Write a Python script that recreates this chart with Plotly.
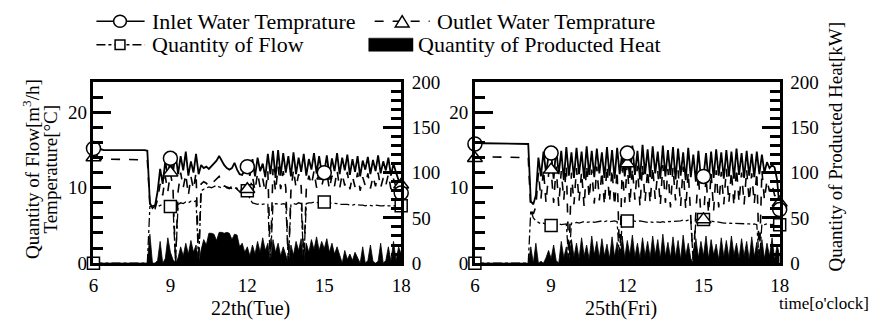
import plotly.graph_objects as go

W, H = 887, 336
FONT = "Liberation Serif"

# ---------------- data (6-minute samples, 6:00 .. 18:00) ----------------
time_h = [round(6 + i * 0.1, 1) for i in range(121)]
x_ticks = [6, 9, 12, 15, 18]
marker_hours = [6, 9, 12, 15, 18]

# 22th (Tue)
tue_inlet = [
    15.2, 15.0, 15.0, 15.1, 15.0, 15.0, 15.0, 15.1, 15.0, 15.0,
    15.0, 15.0, 15.1, 15.0, 15.0, 15.0, 15.0, 15.1, 15.0, 15.0,
    15.0, 14.9, 8.0, 7.3, 7.6, 9.5, 12.5, 10.5, 13.5, 11.5,
    13.9, 12.0, 14.6, 11.8, 14.2, 12.3, 14.8, 11.6, 13.5, 12.0,
    14.5, 11.8, 13.0, 12.6, 12.8, 12.5, 12.9, 13.2, 13.6, 14.2,
    13.6, 13.0, 12.6, 12.4, 12.6, 13.3, 12.4, 11.8, 11.7, 12.4,
    12.8, 11.6, 13.8, 11.5, 14.0, 12.2, 13.2, 11.4, 14.5, 11.8,
    14.9, 11.3, 15.0, 11.6, 14.6, 12.0, 14.2, 11.5, 14.7, 11.8,
    14.0, 12.1, 14.5, 11.6, 13.8, 12.4, 14.6, 11.9, 14.2, 12.0,
    12.0, 14.3, 11.6, 13.9, 12.2, 14.6, 11.8, 14.0, 12.3, 14.4,
    11.7, 13.8, 12.1, 14.2, 11.5, 13.6, 12.4, 14.1, 11.8, 13.7,
    12.2, 14.3, 11.9, 13.5, 12.3, 14.0, 11.6, 13.2, 12.0, 11.0,
    9.3,
]
tue_outlet = [
    14.0, 13.8, 13.8, 13.8, 13.8, 13.8, 13.8, 13.8, 13.8, 13.8,
    13.8, 13.8, 13.8, 13.8, 13.8, 13.8, 13.8, 13.8, 13.8, 13.8,
    13.8, 13.7, 7.8, 7.0, 7.2, 8.5, 10.5, 9.0, 11.5, 9.5,
    12.0, 10.0, 0.0, 9.5, 12.0, 10.0, 11.8, 9.0, 11.5, 9.8,
    12.0, 0.0, 10.5, 10.8, 10.6, 10.2, 10.5, 10.8, 11.2, 11.5,
    10.8, 10.3, 10.0, 9.9, 10.2, 10.6, 9.8, 9.5, 9.4, 9.8,
    9.8, 9.5, 11.5, 9.6, 12.0, 10.0, 11.2, 9.4, 12.2, 0.0,
    12.5, 9.5, 12.8, 9.8, 12.2, 10.0, 0.0, 9.6, 12.4, 10.0,
    11.8, 10.2, 0.0, 9.8, 11.6, 10.4, 12.2, 10.0, 11.8, 10.2,
    11.6, 12.0, 9.8, 11.6, 10.2, 12.3, 9.9, 11.8, 10.3, 12.1,
    9.8, 11.5, 10.1, 12.0, 9.6, 11.4, 10.3, 11.9, 9.9, 11.5,
    10.2, 12.0, 10.0, 11.3, 10.3, 11.8, 9.8, 11.2, 10.1, 10.6,
    10.4,
]
tue_flow = [
    0, 0, 0, 0, 0, 0, 0, 0, 0, 0,
    0, 0, 0, 0, 0, 0, 0, 0, 0, 0,
    0, 0, 7.5, 7.6, 7.7, 7.5, 7.6, 7.8, 7.7, 7.6,
    7.5, 7.7, 0.0, 7.8, 8.0, 7.9, 8.1, 8.0, 8.2, 8.1,
    8.3, 0.0, 9.6, 9.8, 10.0, 10.1, 10.0, 10.2, 10.3, 10.1,
    10.0, 10.2, 10.1, 10.0, 9.9, 10.0, 9.8, 9.7, 9.8, 9.7,
    9.6, 8.5, 8.0, 7.9, 7.8, 7.9, 7.8, 7.9, 7.8, 0.0,
    7.8, 7.9, 7.8, 7.8, 7.9, 7.8, 0.0, 7.8, 7.9, 7.8,
    8.0, 7.9, 0.0, 7.9, 8.0, 8.0, 8.1, 8.0, 8.1, 8.1,
    8.1, 8.0, 8.0, 7.9, 7.9, 7.9, 7.8, 7.8, 7.8, 7.8,
    7.7, 7.7, 7.8, 7.7, 7.7, 7.7, 7.6, 7.7, 7.6, 7.6,
    7.7, 7.6, 7.6, 7.6, 7.7, 7.6, 7.6, 7.6, 7.7, 7.6,
    7.6,
]
tue_heat = [
    0, 0, 0, 0, 0, 0, 0, 0, 0, 0,
    0, 0, 0, 0, 0, 0, 0, 0, 0, 0,
    0, 0, 32, 0, 0, 3, 24, 0, 5, 28,
    12, 4, 0, 6, 18, 8, 22, 10, 25, 12,
    20, 0, 15, 26, 20, 33, 33, 32, 25, 34,
    34, 33, 34, 33, 26, 32, 31, 18, 22, 12,
    18, 8, 20, 10, 24, 12, 28, 14, 22, 0,
    26, 12, 22, 8, 18, 10, 0, 20, 9, 24,
    14, 27, 0, 22, 12, 26, 15, 29, 14, 24,
    16, 27, 12, 22, 10, 18, 8, 0, 14, 4,
    10, 3, 12, 5, 0, 18, 0, 3, 20, 2,
    0, 2, 22, 0, 3, 18, 2, 24, 3, 18,
    10,
]

# 25th (Fri)
fri_inlet = [
    15.8, 15.9, 15.9, 15.9, 15.9, 15.9, 15.9, 15.9, 15.9, 15.9,
    15.9, 15.9, 15.9, 15.9, 15.9, 15.9, 15.9, 15.9, 15.9, 15.9,
    15.9, 15.8, 8.2, 7.8, 9.0, 14.0, 11.5, 14.8, 12.0, 14.2,
    14.6, 11.2, 15.2, 11.8, 14.9, 11.0, 15.4, 11.6, 14.7, 11.3,
    15.3, 11.8, 14.8, 11.2, 15.5, 11.7, 14.9, 11.4, 15.2, 11.9,
    14.7, 11.3, 15.4, 11.6, 15.0, 11.2, 15.3, 11.8, 14.6, 11.5,
    14.6, 11.3, 15.6, 11.7, 14.9, 11.1, 15.7, 11.8, 15.1, 11.4,
    15.5, 11.9, 14.8, 11.2, 15.6, 11.5, 15.0, 11.7, 15.4, 11.1,
    15.2, 11.6, 14.7, 11.0, 15.3, 11.4, 14.4, 10.8, 14.9, 11.2,
    11.5, 14.6, 10.9, 14.8, 11.3, 15.1, 11.6, 14.7, 11.2, 15.0,
    11.5, 14.8, 11.2, 15.2, 11.7, 14.6, 11.3, 14.9, 11.6, 14.5,
    11.4, 14.8, 11.8, 14.4, 12.0, 13.4, 12.6, 13.0, 12.7, 11.0,
    7.1,
]
fri_outlet = [
    13.9, 14.1, 14.1, 14.1, 14.1, 14.1, 14.1, 14.1, 14.1, 14.1,
    14.1, 14.1, 14.1, 14.1, 14.1, 14.1, 14.1, 14.1, 14.1, 14.1,
    14.1, 14.0, 7.0, 6.5, 7.5, 12.0, 8.5, 12.5, 8.0, 11.8,
    12.4, 8.0, 12.8, 7.6, 12.2, 8.4, 12.9, 0.0, 12.0, 7.8,
    12.6, 8.2, 12.1, 7.5, 13.0, 8.6, 12.4, 7.9, 12.8, 8.3,
    12.2, 7.7, 12.9, 8.1, 12.5, 7.6, 12.3, 0.0, 12.7, 8.0,
    13.2, 7.8, 12.6, 8.4, 12.9, 7.5, 13.1, 8.2, 12.4, 7.9,
    12.8, 8.5, 12.2, 7.7, 13.0, 8.0, 12.5, 7.4, 12.7, 8.3,
    12.3, 7.6, 12.8, 7.2, 12.1, 6.5, 0.0, 6.8, 11.8, 6.2,
    5.8, 11.5, 6.6, 12.0, 7.0, 12.3, 7.4, 12.1, 7.8, 12.5,
    8.0, 12.2, 7.6, 12.6, 8.1, 12.0, 7.8, 12.4, 8.2, 11.9,
    7.9, 12.1, 0.0, 12.3, 8.4, 11.0, 9.5, 10.5, 9.0, 8.6,
    8.0,
]
fri_flow = [
    0, 0, 0, 0, 0, 0, 0, 0, 0, 0,
    0, 0, 0, 0, 0, 0, 0, 0, 0, 0,
    0, 0, 7.0, 6.0, 5.6, 5.4, 5.2, 5.3, 5.1, 5.0,
    5.0, 5.1, 5.0, 5.2, 5.1, 5.2, 5.2, 0.0, 5.3, 5.3,
    5.4, 5.3, 5.4, 5.5, 5.4, 5.5, 5.5, 5.4, 5.5, 5.5,
    5.6, 5.5, 5.6, 5.5, 5.6, 5.6, 5.5, 0.0, 5.6, 5.6,
    5.6, 5.7, 5.6, 5.6, 5.5, 5.6, 5.5, 5.5, 5.4, 5.5,
    5.4, 5.5, 5.4, 5.4, 5.5, 5.4, 5.5, 5.5, 5.5, 5.6,
    5.6, 5.6, 5.7, 5.6, 5.7, 5.7, 0.0, 5.8, 5.7, 5.8,
    5.8, 5.7, 5.6, 5.6, 5.5, 5.5, 5.4, 5.4, 5.3, 5.3,
    5.3, 5.2, 5.3, 5.2, 5.2, 5.2, 5.3, 5.2, 5.2, 5.1,
    5.2, 5.1, 0.0, 5.2, 5.1, 5.2, 5.1, 5.1, 5.2, 5.1,
    5.1,
]
fri_heat = [
    0, 0, 0, 0, 0, 0, 0, 0, 0, 0,
    0, 0, 0, 0, 0, 0, 0, 0, 0, 0,
    0, 0, 18, 0, 22, 0, 2, 0, 6, 14,
    5, 20, 3, 0, 24, 6, 18, 0, 26, 7,
    22, 5, 28, 8, 20, 4, 30, 9, 24, 6,
    27, 8, 21, 5, 29, 7, 23, 0, 30, 6,
    25, 9, 31, 7, 22, 5, 28, 8, 24, 6,
    30, 9, 26, 5, 32, 8, 23, 6, 29, 7,
    25, 4, 31, 8, 22, 5, 0, 27, 6, 24,
    8, 30, 5, 26, 9, 21, 4, 28, 7, 25,
    6, 30, 9, 22, 5, 27, 8, 24, 4, 29,
    7, 23, 0, 26, 5, 22, 8, 28, 4, 20,
    8,
]

legend_names = ["Inlet Water Temprature", "Outlet Water Temprature",
                "Quantity of Flow", "Quantity of Producted Heat"]
day_labels = ["22th(Tue)", "25th(Fri)"]

# ---------------- figure ----------------
def px(x):
    return x / W


def py(y):
    return 1 - y / H


fig = go.Figure()
mk_idx = [i for i, t in enumerate(time_h) if t in marker_hours]


def add_panel(xa, ya_heat, ya_temp, inlet, outlet, flow, heat):
    fig.add_trace(go.Scatter(x=time_h, y=heat, xaxis=xa, yaxis=ya_heat, mode="lines",
                             fill="tozeroy", fillcolor="black",
                             line=dict(color="black", width=0.8), showlegend=False))
    fig.add_trace(go.Scatter(x=time_h, y=flow, xaxis=xa, yaxis=ya_temp, mode="lines",
                             line=dict(color="black", width=1.3, dash="dashdot"), showlegend=False))
    fig.add_trace(go.Scatter(x=time_h, y=outlet, xaxis=xa, yaxis=ya_temp, mode="lines",
                             line=dict(color="black", width=1.6, dash="dash"), showlegend=False))
    fig.add_trace(go.Scatter(x=time_h, y=inlet, xaxis=xa, yaxis=ya_temp, mode="lines",
                             line=dict(color="black", width=1.8), showlegend=False))
    for series, sym, size in ((flow, "square", 12), (outlet, "triangle-up", 13), (inlet, "circle", 14)):
        fig.add_trace(go.Scatter(x=[time_h[i] for i in mk_idx], y=[series[i] for i in mk_idx],
                                 xaxis=xa, yaxis=ya_temp, mode="markers", cliponaxis=False,
                                 marker=dict(symbol=sym, size=size, color="white",
                                             line=dict(color="black", width=1.5)),
                                 showlegend=False))


add_panel("x", "y", "y2", tue_inlet, tue_outlet, tue_flow, tue_heat)
add_panel("x2", "y3", "y4", fri_inlet, fri_outlet, fri_flow, fri_heat)

y_dom = [py(270), py(77)]
tickfont = dict(family=FONT, size=19, color="black")
xcommon = dict(range=[6, 18], tickmode="array", tickvals=x_ticks, showline=True, linewidth=2.5,
               linecolor="black", mirror=True, ticks="", showgrid=False, zeroline=False,
               tickfont=tickfont, ticklabelstandoff=3)
heat_axis = dict(range=[0, 200], tickmode="linear", tick0=0, dtick=50, ticks="inside", ticklen=18,
                 tickwidth=3, tickcolor="black", showline=True, linewidth=2.5, linecolor="black",
                 side="right", showgrid=False, zeroline=False, tickfont=tickfont,
                 minor=dict(dtick=10, ticks="inside", ticklen=10, tickwidth=3, tickcolor="black",
                            showgrid=False), domain=y_dom, ticklabelstandoff=4)
temp_axis = dict(range=[0, 24], tickmode="linear", tick0=0, dtick=10, ticks="inside", ticklen=18,
                 tickwidth=3, tickcolor="black", showline=True, linewidth=2.5, linecolor="black",
                 side="left", showgrid=False, zeroline=False, tickfont=tickfont,
                 minor=dict(dtick=2, ticks="inside", ticklen=10, tickwidth=3, tickcolor="black",
                            showgrid=False))

fig.update_layout(
    width=W, height=H, margin=dict(l=0, r=0, t=0, b=0),
    paper_bgcolor="white", plot_bgcolor="rgba(0,0,0,0)", showlegend=False,
    font=dict(family=FONT, size=19, color="black"),
    xaxis=dict(domain=[px(90), px(403)], anchor="y", **xcommon),
    xaxis2=dict(domain=[px(478), px(788)], anchor="y3", **xcommon),
    yaxis=dict(anchor="x", **heat_axis),
    yaxis2=dict(anchor="x", overlaying="y", **temp_axis),
    yaxis3=dict(anchor="x2", **heat_axis),
    yaxis4=dict(anchor="x2", overlaying="y3", **temp_axis),
)

ann = []


def text(t, x, y, size=19, xanchor="center", angle=0):
    ann.append(dict(text=t, x=px(x), y=py(y), xref="paper", yref="paper", showarrow=False,
                    xanchor=xanchor, yanchor="middle", textangle=angle,
                    font=dict(family=FONT, size=size, color="black")))


# legend (manual, to match the two-row layout)
LEG = 22
R1, R2 = 12, 37
text(legend_names[0], 148, R1, LEG, "left")
text(legend_names[1], 437, R1, LEG, "left")
text(legend_names[2], 148, R2, LEG, "left")
text(legend_names[3], 418, R2, LEG, "left")

shapes = []
ln = dict(color="black", width=1.5)
shapes.append(dict(type="line", xref="paper", yref="paper", x0=px(93), x1=px(142), y0=py(R1), y1=py(R1), line=ln))
shapes.append(dict(type="circle", xref="paper", yref="paper", x0=px(110.5), x1=px(123.5),
                   y0=py(R1 + 6.5), y1=py(R1 - 6.5), line=ln, fillcolor="white"))
shapes.append(dict(type="line", xref="paper", yref="paper", x0=px(376), x1=px(432), y0=py(R1), y1=py(R1),
                   line=dict(color="black", width=1.5, dash="dash")))
shapes.append(dict(type="path", xref="paper", yref="paper",
                   path=f"M {px(397)} {py(R1 + 6)} L {px(411)} {py(R1 + 6)} L {px(404)} {py(R1 - 6)} Z",
                   line=ln, fillcolor="white"))
shapes.append(dict(type="line", xref="paper", yref="paper", x0=px(93), x1=px(142), y0=py(R2), y1=py(R2),
                   line=dict(color="black", width=1.5, dash="dashdot")))
shapes.append(dict(type="rect", xref="paper", yref="paper", x0=px(112), x1=px(122),
                   y0=py(R2 + 5), y1=py(R2 - 5), line=ln, fillcolor="white"))
shapes.append(dict(type="rect", xref="paper", yref="paper", x0=px(370), x1=px(415),
                   y0=py(R2 + 7), y1=py(R2 - 7), line=dict(color="black", width=0.5), fillcolor="black"))

# axis titles and day labels
text("Quantity of Flow[m<sup>3</sup>/h]", 27, 170, 19, angle=-90)
text("Temperature[°C]", 46, 170, 19, angle=-90)
text("Quantity of Producted Heat[kW]", 845, 146, 19, angle=-90)
text(day_labels[0], 250, 318, 20)
text(day_labels[1], 627, 318, 20)
text("time[o'clock]", 785, 313, 17, "left")

fig.update_layout(annotations=ann, shapes=shapes)
fig.write_html("out.html")
